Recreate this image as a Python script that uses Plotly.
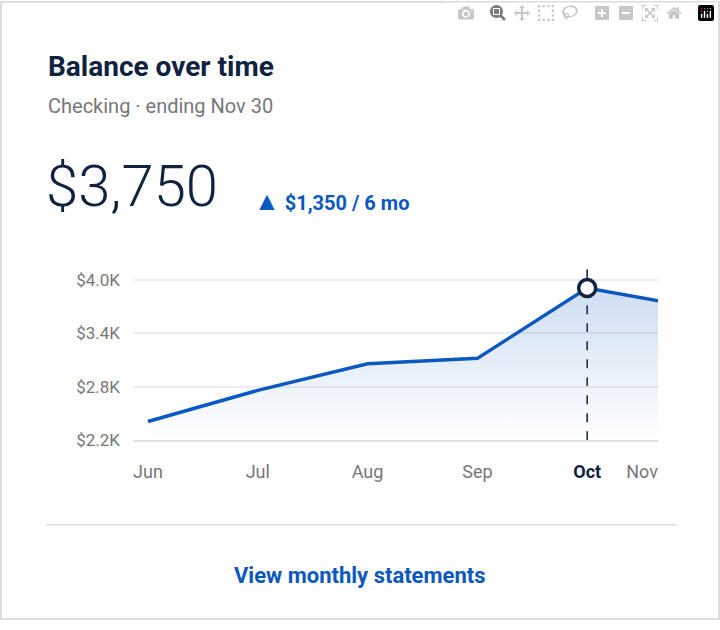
import plotly.graph_objects as go

months = ["Jun", "Jul", "Aug", "Sep", "Oct", "Nov"]
balance = [2.41, 2.76, 3.06, 3.12, 3.91, 3.69]  # $K
y_ticks = [2.2, 2.8, 3.4, 4.0]
y_tick_labels = ["$2.2K", "$2.8K", "$3.4K", "$4.0K"]
x_idx = list(range(len(months)))
W, H = 720, 630
NAVY = "#0f2340"
BLUE = "#0a58c0"
GREY = "#777777"

def px(x): return x / W
def py(y): return 1 - y / H

fig = go.Figure()
fig.add_trace(go.Scatter(x=x_idx, y=[2.2]*len(x_idx), mode="lines", line=dict(width=0), hoverinfo="skip", showlegend=False))
fig.add_trace(go.Scatter(x=x_idx, y=balance, mode="lines", line=dict(color=BLUE, width=3.5),
                         fill="tonexty",
                         fillgradient=dict(type="vertical", colorscale=[[0, "rgba(10,88,192,0.0)"], [1, "rgba(10,88,192,0.2)"]]),
                         showlegend=False))
fig.add_trace(go.Scatter(x=[4], y=[balance[4]], mode="markers",
                         marker=dict(size=17, color="white", line=dict(color=NAVY, width=3.5)), showlegend=False))

fig.update_layout(
    width=W, height=H, margin=dict(l=0, r=0, t=0, b=0),
    paper_bgcolor="white", plot_bgcolor="white",
    font=dict(family="Roboto", color=NAVY),
    xaxis=dict(domain=[px(133), px(658)], range=[-0.136, 4.645], tickvals=[0, 1, 2, 3, 4, 4.5],
               ticktext=["Jun", "Jul", "Aug", "Sep", "<b><span style='color:#0f2340'>Oct</span></b>", "Nov"],
               tickfont=dict(size=18, color=GREY),
               showgrid=False, zeroline=False, showline=True, linecolor="#e3e3e3", linewidth=1.5,
               ticks="", ticklabelstandoff=14),
    yaxis=dict(domain=[py(447), py(275)], range=[2.2, 4.1], tickvals=y_ticks, ticktext=y_tick_labels,
               tickfont=dict(size=17, color=GREY), showgrid=True, gridcolor="#eeeeee", gridwidth=1.5,
               zeroline=False, ticks="", ticklabelstandoff=12),
    shapes=[
        dict(type="rect", xref="paper", yref="paper", x0=px(1), x1=px(719), y0=py(629), y1=py(1),
             line=dict(color="#dddddd", width=2), layer="below"),
        dict(type="line", xref="x", yref="paper", x0=4, x1=4, y0=py(447), y1=py(273),
             line=dict(color=NAVY, width=1.5, dash="dash"), layer="below"),
        dict(type="line", xref="paper", yref="paper", x0=px(46), x1=px(676), y0=py(533), y1=py(533),
             line=dict(color="#dddddd", width=1.5)),
    ],
    annotations=[
        dict(text="<b>Balance over time</b>", x=px(46), y=py(67), xref="paper", yref="paper", xanchor="left", yanchor="middle",
             showarrow=False, font=dict(size=28, color=NAVY)),
        dict(text="Checking · ending Nov 30", x=px(46), y=py(107), xref="paper", yref="paper", xanchor="left", yanchor="middle",
             showarrow=False, font=dict(size=20, color=GREY)),
        dict(text="$3,750", x=px(44), y=py(188), xref="paper", yref="paper", xanchor="left", yanchor="middle",
             showarrow=False, font=dict(size=58, color=NAVY, family="Roboto Light, Roboto", weight=300)),
        dict(text="<span style='font-size:26px'>▲</span><b> $1,350 / 6 mo</b>", x=px(252), y=py(204), xref="paper", yref="paper",
             xanchor="left", yanchor="middle", showarrow=False, font=dict(size=20, color=BLUE)),
        dict(text="<b>View monthly statements</b>", x=0.5, y=py(585), xref="paper", yref="paper", xanchor="center", yanchor="middle",
             showarrow=False, font=dict(size=22, color=BLUE)),
    ],
)
fig.write_html("out.html", post_script="document.body.style.margin='0px';")
